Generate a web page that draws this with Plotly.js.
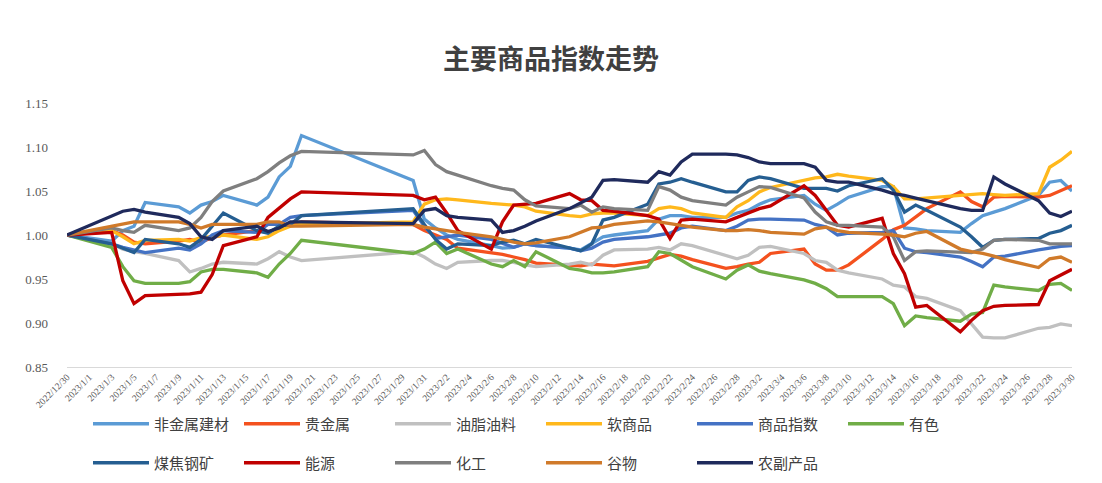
<!DOCTYPE html>
<html>
<head>
<meta charset="utf-8">
<script src="https://cdn.plot.ly/plotly-3.0.1.min.js"></script>
<style>html,body{margin:0;padding:0;background:#fff;}#chart{width:1102px;height:483px;}</style>
</head>
<body>
<div id="chart"></div>
<script>
const dates = ['2022-12-30','2023-01-03','2023-01-04','2023-01-05','2023-01-06','2023-01-09','2023-01-10','2023-01-11','2023-01-12','2023-01-13','2023-01-16','2023-01-17','2023-01-18','2023-01-19','2023-01-20','2023-01-30','2023-01-31','2023-02-01','2023-02-02','2023-02-03','2023-02-06','2023-02-07','2023-02-08','2023-02-09','2023-02-10','2023-02-13','2023-02-14','2023-02-15','2023-02-16','2023-02-17','2023-02-20','2023-02-21','2023-02-22','2023-02-23','2023-02-24','2023-02-27','2023-02-28','2023-03-01','2023-03-02','2023-03-03','2023-03-06','2023-03-07','2023-03-08','2023-03-09','2023-03-10','2023-03-13','2023-03-14','2023-03-15','2023-03-16','2023-03-17','2023-03-20','2023-03-21','2023-03-22','2023-03-23','2023-03-24','2023-03-27','2023-03-28','2023-03-29','2023-03-30'];

const nonMetal = [1.000, 0.993,1.005,1.010,1.037, 1.032,1.025,1.034,1.038,1.045, 1.034,1.043,1.066,1.078,1.113, 1.062,1.018, 1.008,1.000,0.995, 0.988,0.985,0.986,0.990,0.988, 0.985,0.983,0.990,0.998,1.000, 1.005,1.018,1.022,1.022,1.020, 1.020,1.025, 1.028,1.035,1.040, 1.045,1.035,1.028,1.035,1.043, 1.055,1.055,1.008,1.007,1.005, 1.003,1.013,1.022,1.026,1.030, 1.045,1.060,1.062,1.050];
const precious = [1.000, 1.005,1.000,0.992,0.990, 0.993,0.995,0.992,0.997,1.000, 1.005,1.003,1.008,1.012,1.015, 1.012,1.005, 1.000,0.995,0.985, 0.980,0.978,0.975,0.972,0.968, 0.966,0.965,0.967,0.966,0.965, 0.970,0.974,0.978,0.976,0.972, 0.962,0.964, 0.967,0.969,0.979, 0.984,0.967,0.960,0.960,0.966, 0.995,1.006,1.011,1.020,1.030, 1.049,1.038,1.032,1.043,1.044, 1.043,1.045,1.051,1.056];
const oils = [1.000, 0.990,0.984,0.981,0.979, 0.971,0.958,0.962,0.967,0.969, 0.967,0.973,0.981,0.975,0.971, 0.981,0.975, 0.967,0.962,0.969, 0.971,0.971,0.969,0.966,0.964, 0.967,0.969,0.966,0.977,0.983, 0.984,0.986,0.983,0.990,0.988, 0.977,0.973, 0.977,0.986,0.987, 0.979,0.971,0.969,0.960,0.957, 0.950,0.943,0.941,0.930,0.928, 0.914,0.899,0.884,0.883,0.883, 0.894,0.895,0.899,0.897];
const soft = [1.000, 1.005,0.998,0.990,0.994, 0.995,0.993,0.997,0.998,1.000, 0.995,0.998,1.005,1.010,1.012, 1.015,1.035, 1.040,1.041,1.040, 1.036,1.035,1.034,1.032,1.027, 1.022,1.021,1.024,1.025,1.025, 1.022,1.030,1.032,1.030,1.025, 1.020,1.032, 1.039,1.049,1.054, 1.062,1.065,1.066,1.069,1.067, 1.062,1.055,1.041,1.041,1.042, 1.045,1.046,1.047,1.046,1.045, 1.047,1.077,1.085,1.095];
const index = [1.000, 0.990,0.986,0.983,0.980, 0.985,0.983,0.990,1.000,1.005, 1.003,1.012,1.012,1.020,1.022, 1.028,1.010, 0.996,0.998,1.000, 0.995,0.990,0.986,0.990,0.988, 0.985,0.982,0.985,0.992,0.995, 0.998,1.000,1.002,1.008,1.010, 1.005,1.010, 1.017,1.018,1.018, 1.017,1.012,1.009,1.000,1.002, 1.003,1.005,0.985,0.981,0.980, 0.975,0.970,0.964,0.975,0.976, 0.983,0.985,0.987,0.988];
const nonferrous = [1.000, 0.986,0.964,0.948,0.945, 0.945,0.947,0.958,0.961,0.961, 0.957,0.952,0.967,0.979,0.994, 0.979,0.984, 0.992,0.979,0.984, 0.967,0.964,0.971,0.964,0.981, 0.962,0.960,0.957,0.957,0.958, 0.964,0.981,0.979,0.971,0.964, 0.950,0.960, 0.966,0.959,0.956, 0.949,0.945,0.939,0.930,0.930, 0.930,0.922,0.897,0.908,0.906, 0.902,0.910,0.912,0.943,0.941, 0.937,0.944,0.945,0.937];
const coal = [1.000, 0.990,0.985,0.980,0.995, 0.990,0.986,0.995,1.010,1.025, 1.005,1.002,1.010,1.012,1.022, 1.030,1.012, 0.995,0.984,0.990, 0.988,0.992,0.994,0.990,0.995, 0.985,0.982,0.990,1.017,1.020, 1.035,1.058,1.060,1.064,1.060, 1.049,1.049, 1.062,1.066,1.064, 1.053,1.053,1.053,1.050,1.056, 1.064,1.051,1.026,1.034,1.028, 1.009,0.998,0.986,0.994,0.995, 0.996,1.002,1.005,1.011];
const energy = [1.000, 1.003,0.948,0.922,0.931, 0.932,0.933,0.935,0.955,0.988, 0.998,1.020,1.030,1.041,1.049, 1.045,1.040, 1.043,1.025,1.005, 0.984,1.015,1.034,1.035,1.036, 1.047,1.040,1.039,1.028,1.027, 1.022,1.018,0.996,1.017,1.018, 1.015,1.020, 1.026,1.030,1.033, 1.056,1.045,1.028,1.011,1.009, 1.019,0.979,0.956,0.918,0.920, 0.890,0.903,0.914,0.919,0.920, 0.921,0.948,0.954,0.961];
const chem = [1.000, 1.008,1.005,1.003,1.011, 1.005,1.008,1.020,1.038,1.050, 1.064,1.072,1.082,1.090,1.095, 1.091,1.096, 1.080,1.072,1.068, 1.056,1.053,1.051,1.040,1.033, 1.030,1.034,1.026,1.032,1.030, 1.028,1.055,1.051,1.043,1.039, 1.034,1.043, 1.049,1.055,1.054, 1.042,1.026,1.015,1.011,1.011, 1.009,0.998,0.971,0.981,0.982, 0.981,0.980,0.984,0.994,0.995, 0.994,0.990,0.990,0.990];
const grain = [1.000, 1.010,1.012,1.015,1.015, 1.015,1.012,1.008,1.012,1.012, 1.012,1.015,1.015,1.010,1.010, 1.012,1.009, 1.007,1.005,1.003, 0.998,0.995,0.992,0.990,0.991, 0.998,1.003,1.008,1.009,1.012, 1.016,1.015,1.013,1.011,1.009, 1.005,1.005, 1.006,1.005,1.003, 1.001,1.007,1.009,1.005,1.003, 1.001,1.000,0.998,1.002,1.004, 0.984,0.981,0.979,0.976,0.972, 0.963,0.973,0.975,0.969];
const agri = [1.000, 1.022,1.027,1.029,1.026, 1.020,1.013,0.998,0.995,1.005, 1.010,1.004,1.008,1.015,1.015, 1.013,1.028, 1.030,1.022,1.020, 1.017,1.003,1.005,1.010,1.016, 1.030,1.036,1.043,1.062,1.063, 1.060,1.072,1.068,1.083,1.092, 1.092,1.091, 1.088,1.083,1.081, 1.081,1.077,1.062,1.060,1.060, 1.051,1.047,1.045,1.042,1.039, 1.030,1.028,1.028,1.066,1.058, 1.039,1.025,1.021,1.027];

const names = ['非金属建材','贵金属','油脂油料','软商品','商品指数','有色','煤焦钢矿','能源','化工','谷物','农副产品'];
const seriesList = [nonMetal, precious, oils, soft, index, nonferrous, coal, energy, chem, grain, agri];
const colors = ['#5b9bd5','#f4511e','#c0c0c0','#ffb81c','#4472c4','#70ad47','#255e91','#c00000','#7f7f7f','#d07a2a','#1f2a5c'];

const traces = seriesList.map((ys, i) => ({
  type: 'scatter', mode: 'lines', x: dates, y: ys, name: names[i],
  line: {color: colors[i], width: 3.3},
  legend: i < 6 ? 'legend' : 'legend2',
  hoverinfo: 'skip'
}));

const legendFont = {family: 'Noto Sans CJK SC', size: 15, color: '#404040'};
const legendCommon = {orientation: 'h', xref: 'container', yref: 'container', x: 88/1102, xanchor: 'left', yanchor: 'middle',
           font: legendFont, entrywidth: 80, entrywidthmode: 'pixels', itemwidth: 56, bgcolor: 'rgba(0,0,0,0)'};
const layout = {
  width: 1102, height: 483,
  margin: {l: 67, r: 30, t: 103, b: 116},
  paper_bgcolor: '#ffffff', plot_bgcolor: '#ffffff',
  title: {text: '主要商品指数走势', x: 0.5, xref: 'container', xanchor: 'center', y: 1 - 60/483, yref: 'container', yanchor: 'middle',
          font: {family: 'Noto Sans CJK SC', size: 27, color: '#404040', weight: 'bold'}},
  xaxis: {type: 'date', range: ['2022-12-30', '2023-03-30'], tick0: '2022-12-30', dtick: 2*86400000,
          tickformat: '%Y/%-m/%-d', tickangle: -45, tickfont: {family: 'Liberation Serif', size: 9.5, color: '#595959'},
          showgrid: false, zeroline: false, showline: true, linecolor: '#d9d9d9', linewidth: 1, ticks: ''},
  yaxis: {range: [0.85, 1.15], dtick: 0.05, tick0: 0.85, tickformat: '.2f', showgrid: false, zeroline: false, showline: false,
          tickfont: {family: 'Liberation Serif', size: 13, color: '#595959'}, ticklabelstandoff: 18},
  showlegend: true,
  legend: Object.assign({}, legendCommon, {y: 1 - 424/483}),
  legend2: Object.assign({}, legendCommon, {y: 1 - 463/483})
};

Plotly.newPlot('chart', traces, layout, {displayModeBar: false, staticPlot: true});
</script>
</body>
</html>
